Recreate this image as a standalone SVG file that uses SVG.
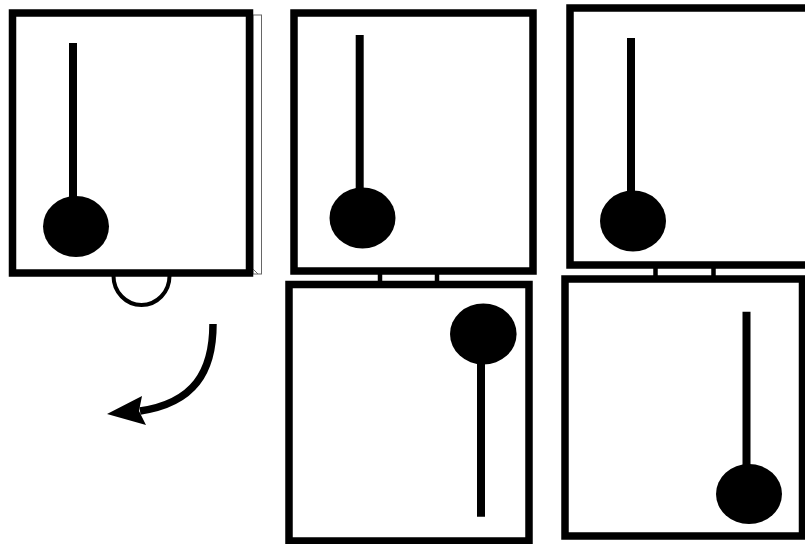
<svg xmlns="http://www.w3.org/2000/svg" width="805" height="544" viewBox="0 0 805 544">
  <style>
    .frame { fill: #ffffff; stroke: #000000; stroke-width: 7.5; }
    .rod { stroke: #000000; stroke-width: 8; fill: none; }
    .bob { fill: #000000; }
    .link { stroke: #000000; stroke-width: 4.5; fill: none; }
    .edge { fill: #ffffff; stroke: #666666; stroke-width: 1; }
  </style>
  <rect x="0" y="0" width="805" height="544" fill="#ffffff"/>

  <g id="panel-1">
    <rect class="edge" x="253" y="15" width="8.5" height="259"/>
    <line x1="253" y1="269" x2="258" y2="274" stroke="#666666" stroke-width="1"/>
    <rect class="frame" x="12.5" y="13" width="237" height="260"/>
    <line class="rod" x1="73" y1="43" x2="73" y2="210"/>
    <ellipse class="bob" cx="76" cy="226.5" rx="33" ry="30.5"/>
  </g>

  <g id="hook">
    <path d="M 113.5 276 A 28 29 0 0 0 169.5 276" fill="none" stroke="#000000" stroke-width="4"/>
  </g>

  <g id="rotation-arrow">
    <path d="M 213 324 C 213 372 194 403 140 411" fill="none" stroke="#000000" stroke-width="7.5"/>
    <polygon points="107,414 142,396 139,411 146,425" fill="#000000"/>
  </g>

  <g id="panel-2">
    <rect class="frame" x="294" y="13" width="239" height="258"/>
    <line class="rod" x1="359.7" y1="35" x2="359.7" y2="200"/>
    <ellipse class="bob" cx="362.5" cy="218" rx="33" ry="30.5"/>
  </g>

  <g id="panel-3">
    <rect class="frame" x="570" y="8" width="240" height="257"/>
    <line class="rod" x1="631" y1="38" x2="631" y2="205"/>
    <ellipse class="bob" cx="633" cy="221" rx="33" ry="30.5"/>
  </g>

  <g id="panel-4">
    <rect class="frame" x="289" y="284.5" width="240" height="256.5"/>
    <ellipse class="bob" cx="483.3" cy="334" rx="33.3" ry="30.5"/>
    <line class="rod" x1="481" y1="350" x2="481" y2="516.7"/>
  </g>

  <g id="panel-5">
    <rect class="frame" x="565" y="279" width="237.5" height="257"/>
    <line class="rod" x1="746.5" y1="311.7" x2="746.5" y2="480"/>
    <ellipse class="bob" cx="749" cy="494" rx="33" ry="30"/>
  </g>

  <g id="connectors">
    <line class="link" x1="380" y1="271" x2="380" y2="284.5"/>
    <line class="link" x1="437" y1="271" x2="437" y2="284.5"/>
    <line class="link" x1="655.5" y1="265" x2="655.5" y2="279"/>
    <line class="link" x1="713.5" y1="265" x2="713.5" y2="279"/>
  </g>
</svg>
